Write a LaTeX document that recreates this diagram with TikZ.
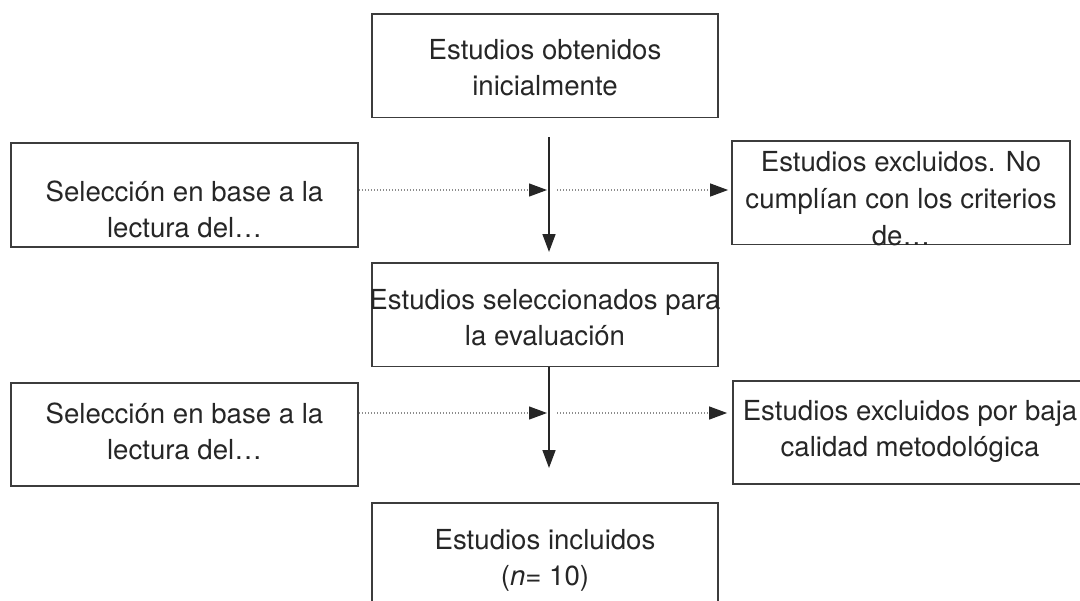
\documentclass[tikz,border=0pt]{standalone}
\usepackage{fontspec}
\setmainfont{TeX Gyre Heros}
\usetikzlibrary{arrows.meta}
\definecolor{ink}{HTML}{262626}
\definecolor{edge}{HTML}{3C3C3C}
\definecolor{dotc}{HTML}{8C8C8C}
\begin{document}
\begin{tikzpicture}[x=0.5pt,y=-0.5pt,
  box/.style={draw=edge, line width=0.9pt, rectangle, inner sep=0pt, minimum height=51.75pt},
  txt/.style={text=ink, align=center, inner sep=0pt, font=\fontsize{13.8}{18}\selectfont},
  flow/.style={draw=ink, line width=0.8pt, -{Triangle[length=9pt,width=6.5pt]}},
  dotline/.style={draw=dotc, line width=0.6pt, dash pattern=on 0.5pt off 1pt, -{Triangle[length=9pt,width=6.5pt,fill=ink,color=ink]}}]
\useasboundingbox (0,0) rectangle (1080,600);
\clip (0,0) rectangle (1080,600);
% boxes
\node[box, minimum width=173pt] (top) at (545,65.75) {};
\node[box, minimum width=173.5pt] (sel1) at (184.5,195) {};
\node[box, minimum width=169pt] (exc1) at (901,192.75) {};
\node[box, minimum width=173pt] (mid) at (545,314.75) {};
\node[box, minimum width=173.5pt] (sel2) at (184.5,434.5) {};
\node[box, minimum width=178pt] (exc2) at (911,432.5) {};
\node[box, minimum width=173pt] (bot) at (545,554.75) {};
% texts
\node[txt] (ttop) at (545,68) {Estudios obtenidos\\inicialmente};
\node[txt] (tsel1) at (184.5,209) {Selección en base a la\\lectura del\ldots};
\node[txt] (tmid) at (545,318) {Estudios seleccionados para\\la evaluación};
\node[txt] (tsel2) at (184.5,431.5) {Selección en base a la\\lectura del\ldots};
\node[txt] (texc2) at (910,431.5) {Estudios excluidos por baja\\calidad metodológica};
\node[txt] (tbot) at (545,560.5) {Estudios incluidos\\(\textit{n}= 10)};
\begin{scope}
\clip (exc1.north west) rectangle (exc1.south east);
\node[txt, font=\fontsize{13.8}{18.5}\selectfont] (texc1) at (901,199) {Estudios excluidos. No\\cumplían con los criterios\\de\ldots};
\end{scope}
% connectors
\coordinate (v1s) at (549,137);
\coordinate (v1e) at (549,252);
\coordinate (v2s) at (549,366.5);
\coordinate (v2e) at (549,468);
\coordinate (h1) at (547,190);
\coordinate (h1b) at (557,190);
\coordinate (h2) at (547,413);
\coordinate (h2b) at (557,413);
\draw[flow] (v1s) -- (v1e);
\draw[flow] (v2s) -- (v2e);
\draw[dotline] (sel1.east |- h1) -- (h1);
\draw[dotline, shorten >=1.5pt] (h1b) -- (exc1.west |- h1b);
\draw[dotline] (sel2.east |- h2) -- (h2);
\draw[dotline, shorten >=2.5pt] (h2b) -- (exc2.west |- h2b);
\end{tikzpicture}
\end{document}
